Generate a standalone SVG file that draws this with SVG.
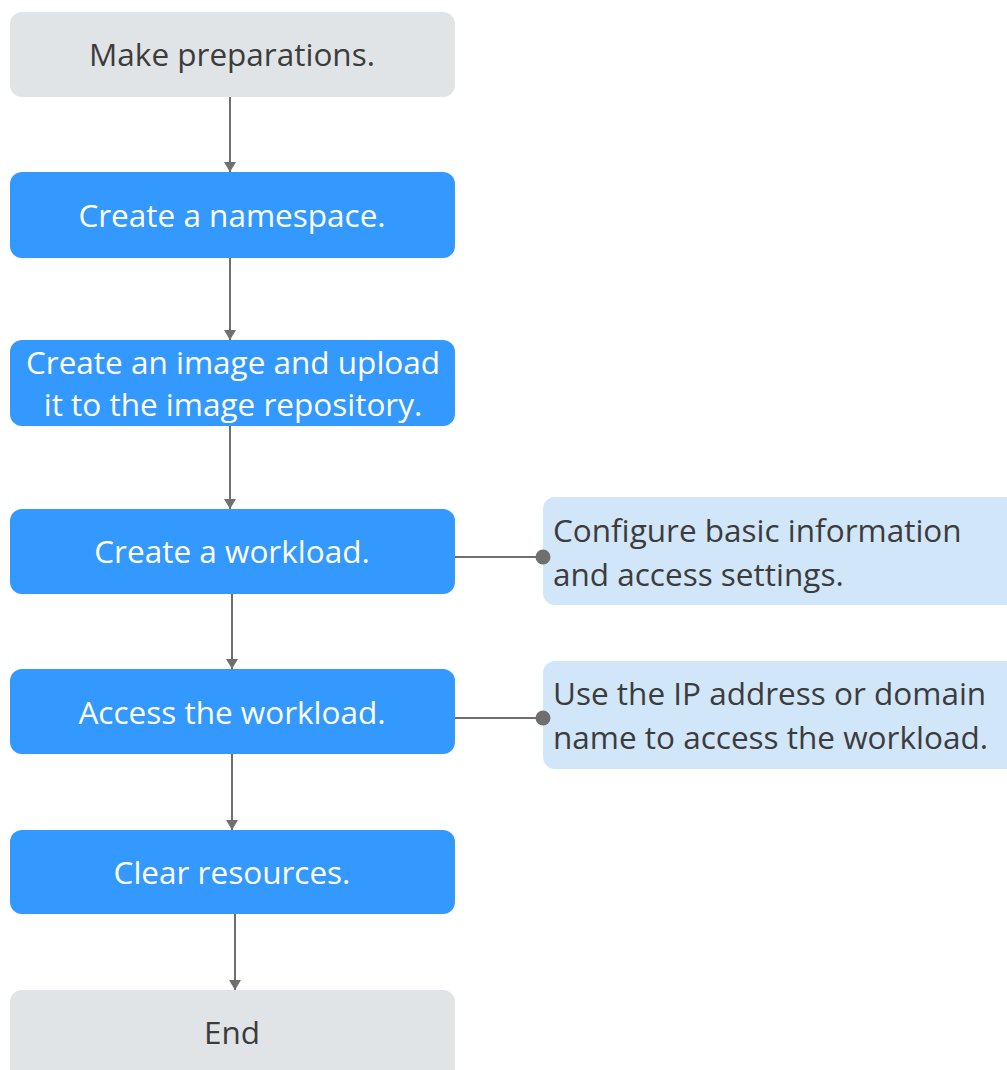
<svg xmlns="http://www.w3.org/2000/svg" width="1007" height="1070" viewBox="0 0 1007 1070">
<style>
.gray{fill:#e1e4e6}
.blue{fill:#3399ff}
.light{fill:#d2e6f9}
.t{font-family:"Open Sans","Noto Sans","Liberation Sans",sans-serif;font-size:31.5px;text-anchor:middle}
.dark{fill:#3c3c3c}
.white{fill:#ffffff}
.side{font-family:"Open Sans","Noto Sans","Liberation Sans",sans-serif;font-size:31.5px;fill:#3c3c3c}
.ln{stroke:#6f6f6f;stroke-width:2;fill:none}
</style>
<defs>
<marker id="arr" viewBox="0 0 10 12" refX="10" refY="6" markerWidth="10" markerHeight="12" markerUnits="userSpaceOnUse" orient="auto">
<path d="M0,0 L10,6 L0,12 Z" fill="#6f6f6f"/>
</marker>
</defs>
<g id="n1"><rect class="gray" x="10" y="12" width="445" height="85" rx="12"/><text class="t dark" x="232" y="66">Make preparations.</text></g>
<g id="n2"><rect class="blue" x="10" y="172" width="445" height="86" rx="12"/><text class="t white" x="232" y="227">Create a namespace.</text></g>
<g id="n3"><rect class="blue" x="10" y="340" width="445" height="86" rx="12"/><text class="t white" x="233" y="374">Create an image and upload</text><text class="t white" x="233" y="416">it to the image repository.</text></g>
<g id="n4"><rect class="blue" x="10" y="509" width="445" height="85" rx="12"/><text class="t white" x="232" y="563">Create a workload.</text></g>
<g id="n5"><rect class="blue" x="10" y="669" width="445" height="85" rx="12"/><text class="t white" x="232" y="724">Access the workload.</text></g>
<g id="n6"><rect class="blue" x="10" y="830" width="445" height="84" rx="12"/><text class="t white" x="232" y="884">Clear resources.</text></g>
<g id="n7"><rect class="gray" x="10" y="990" width="445" height="95" rx="12"/><text class="t dark" x="232" y="1044">End</text></g>
<g id="s1"><rect class="light" x="543" y="497" width="480" height="108" rx="12"/><text class="side" x="553" y="542">Configure basic information</text><text class="side" x="553" y="586">and access settings.</text></g>
<g id="s2"><rect class="light" x="543" y="661" width="480" height="108" rx="12"/><text class="side" x="553" y="705">Use the IP address or domain</text><text class="side" x="553" y="749">name to access the workload.</text></g>
<g id="connectors">
<line class="ln" x1="230" y1="97" x2="230" y2="172" marker-end="url(#arr)"/>
<line class="ln" x1="230" y1="258" x2="230" y2="340" marker-end="url(#arr)"/>
<line class="ln" x1="230" y1="426" x2="230" y2="509" marker-end="url(#arr)"/>
<line class="ln" x1="232" y1="594" x2="232" y2="669" marker-end="url(#arr)"/>
<line class="ln" x1="232" y1="754" x2="232" y2="830" marker-end="url(#arr)"/>
<line class="ln" x1="235" y1="914" x2="235" y2="990" marker-end="url(#arr)"/>
<line class="ln" x1="455" y1="557" x2="543" y2="557"/>
<circle cx="543" cy="557" r="7.5" fill="#6f6f6f"/>
<line class="ln" x1="455" y1="718" x2="543" y2="718"/>
<circle cx="543" cy="718" r="7.5" fill="#6f6f6f"/>
</g>
</svg>
